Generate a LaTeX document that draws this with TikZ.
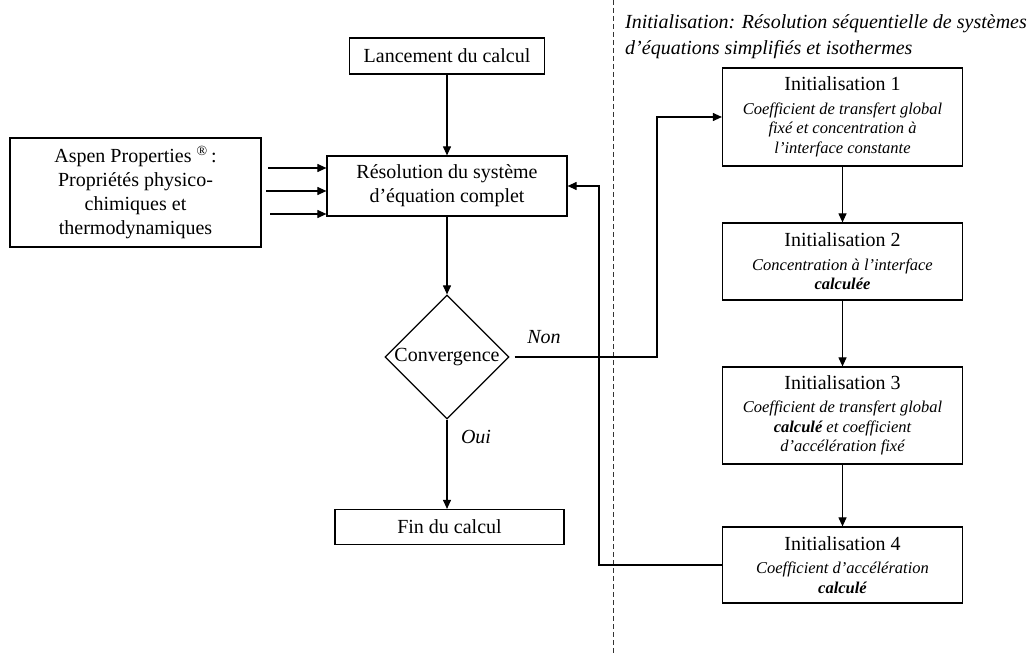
\documentclass[tikz,border=0pt]{standalone}
\usepackage{fontspec}
\setmainfont{Liberation Serif}
\usetikzlibrary{arrows.meta,shapes.geometric}
\begin{document}
\begin{tikzpicture}[x=1pt,y=-1pt,
  box/.style={draw, line width=1.2pt, rectangle, inner sep=0pt, align=center,
    font=\fontsize{20}{24}\selectfont},
  initbox/.style={draw, line width=1.2pt, rectangle, inner sep=0pt, align=center,
    minimum width=240pt, font=\fontsize{16.5}{19.5}\selectfont\itshape},
  arr/.style={line width=1.1pt, -{Triangle[length=9pt,width=8pt]}},
  ln/.style={line width=1.1pt},
  lbl/.style={font=\fontsize{20}{24}\selectfont\itshape, inner sep=0pt}
]
\useasboundingbox (0,0) rectangle (1032,655);

% dashed separator
\draw[line width=1pt, black!80, dash pattern=on 5pt off 3pt] (613,0) -- (613,653);

% header
\node[lbl, anchor=west, align=left, font=\fontsize{20}{26}\selectfont\itshape] (head) at (625,37)
  {Initialisation: Résolution séquentielle de systèmes\\d’équations simplifiés et isothermes};

% left column
\node[box, minimum width=195pt, minimum height=36pt] (lanc) at (447,56) {Lancement du calcul};
\node[box, minimum width=240pt, minimum height=60pt] (res) at (447,186) {Résolution du système\\d’équation complet};
\node[box, minimum width=251pt, minimum height=109pt] (aspen) at (135.5,192.5)
  {Aspen Properties \textsuperscript{®}\,:\\Propriétés physico-\\chimiques et\\thermodynamiques};
\node[draw, line width=1.2pt, diamond, aspect=1, inner sep=0pt, minimum size=124pt,
  font=\fontsize{20}{24}\selectfont] (conv) at (447,357) {Convergence};
\node[box, minimum width=229pt, minimum height=35pt] (fin) at (449.5,527) {Fin du calcul};

% right column
\node[initbox, minimum height=98pt] (init1) at (842.5,117)
  {{\upshape\fontsize{20}{24}\selectfont Initialisation 1}\\[4pt]Coefficient de transfert global\\fixé et concentration à\\l’interface constante};
\node[initbox, minimum height=77pt] (init2) at (842.5,261.5)
  {{\upshape\fontsize{20}{24}\selectfont Initialisation 2}\\[4pt]Concentration à l’interface\\\textbf{calculée}};
\node[initbox, minimum height=97pt] (init3) at (842.5,415.5)
  {{\upshape\fontsize{20}{24}\selectfont Initialisation 3}\\[4pt]Coefficient de transfert global\\\textbf{calculé} et coefficient\\d’accélération fixé};
\node[initbox, minimum height=76pt] (init4) at (842.5,565)
  {{\upshape\fontsize{20}{24}\selectfont Initialisation 4}\\[4pt]Coefficient d’accélération\\\textbf{calculé}};

% connectors left
\draw[arr] (lanc.south) -- (res.north);
\draw[arr] (res.south) -- (conv.north);
\draw[arr] (conv.south) -- (conv.south |- fin.north);

\coordinate (a1) at (268,168);
\coordinate (a2) at (266,191);
\coordinate (a3) at (270,214);
\draw[arr] (a1) -- (a1 -| res.west);
\draw[arr] (a2) -- (a2 -| res.west);
\draw[arr] (a3) -- (a3 -| res.west);

% Non branch
\coordinate (n1) at (657,357);
\draw[arr, shorten <=5pt] (conv.east) -- (n1) |- (init1.west);
\node[lbl] (non) at (544,337) {Non};
\node[lbl] (oui) at (476,437) {Oui};

% init chain
\draw[arr] (init1.south) -- (init2.north);
\draw[arr] (init2.south) -- (init3.north);
\draw[arr] (init3.south) -- (init4.north);

% return
\coordinate (r1) at (599,565);
\draw[arr] (init4.west) -- (r1) |- (res.east);
\end{tikzpicture}
\end{document}
